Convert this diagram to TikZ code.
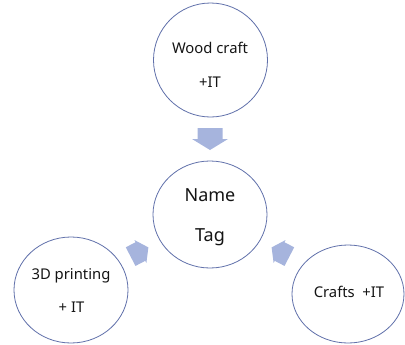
\documentclass[tikz,border=0pt]{standalone}
\usepackage{fontspec}
\setmainfont{Noto Sans}
\usetikzlibrary{shapes.geometric}
\definecolor{ringcol}{RGB}{96,112,170}
\definecolor{arrowcol}{RGB}{166,180,221}
\definecolor{txtcol}{RGB}{20,20,20}
\tikzset{
  ring/.style={draw=ringcol, line width=0.8bp, ellipse, inner sep=0pt, fill=white},
  smalltxt/.style={anchor=base, inner sep=0pt, text=txtcol, font=\fontsize{14.8bp}{16bp}\selectfont},
  bigtxt/.style={anchor=base, inner sep=0pt, text=txtcol, font=\fontsize{18bp}{20bp}\selectfont},
  blockarrow/.style={fill=arrowcol, draw=none}
}
\begin{document}
\begin{tikzpicture}[x=1bp, y=-1bp]
\useasboundingbox (0,0) rectangle (405,345);
% circles
\node[ring, minimum width=114bp, minimum height=114bp] (top) at (210.5,60) {};
\node[ring, minimum width=114bp, minimum height=107bp] (center) at (210,214.5) {};
\node[ring, minimum width=114bp, minimum height=106bp] (left) at (71,290) {};
\node[ring, minimum width=112bp, minimum height=98bp] (right) at (348,294) {};
% texts
\node[smalltxt] (t1) at (210,53) {Wood craft};
\node[smalltxt] (t2) at (210,87) {+IT};
\node[bigtxt] (c1) at (210,201.5) {Name};
\node[bigtxt] (c2) at (210,241) {Tag};
\node[smalltxt] (l1) at (71,279.5) {3D printing};
\node[smalltxt] (l2) at (71.5,312) {+ IT};
\node[smalltxt] (r1) at (349,297) {Crafts\ \ +IT};
% arrows
\begin{scope}[shift={(210,139)}, rotate=-90]
  \fill[blockarrow] (-11,-12.5) -- (0,-12.5) -- (0,-18) -- (11,0) -- (0,18) -- (0,12.5) -- (-11,12.5) -- cycle;
\end{scope}
\begin{scope}[shift={(139.5,252)}, rotate=27.5]
  \fill[blockarrow] (-10,-10.5) -- (1,-10.5) -- (1,-13) -- (10,0) -- (1,13) -- (1,10.5) -- (-10,10.5) -- cycle;
\end{scope}
\begin{scope}[shift={(280.5,252)}, rotate=152.5]
  \fill[blockarrow] (-10,-10.5) -- (1,-10.5) -- (1,-13) -- (10,0) -- (1,13) -- (1,10.5) -- (-10,10.5) -- cycle;
\end{scope}
\end{tikzpicture}
\end{document}
